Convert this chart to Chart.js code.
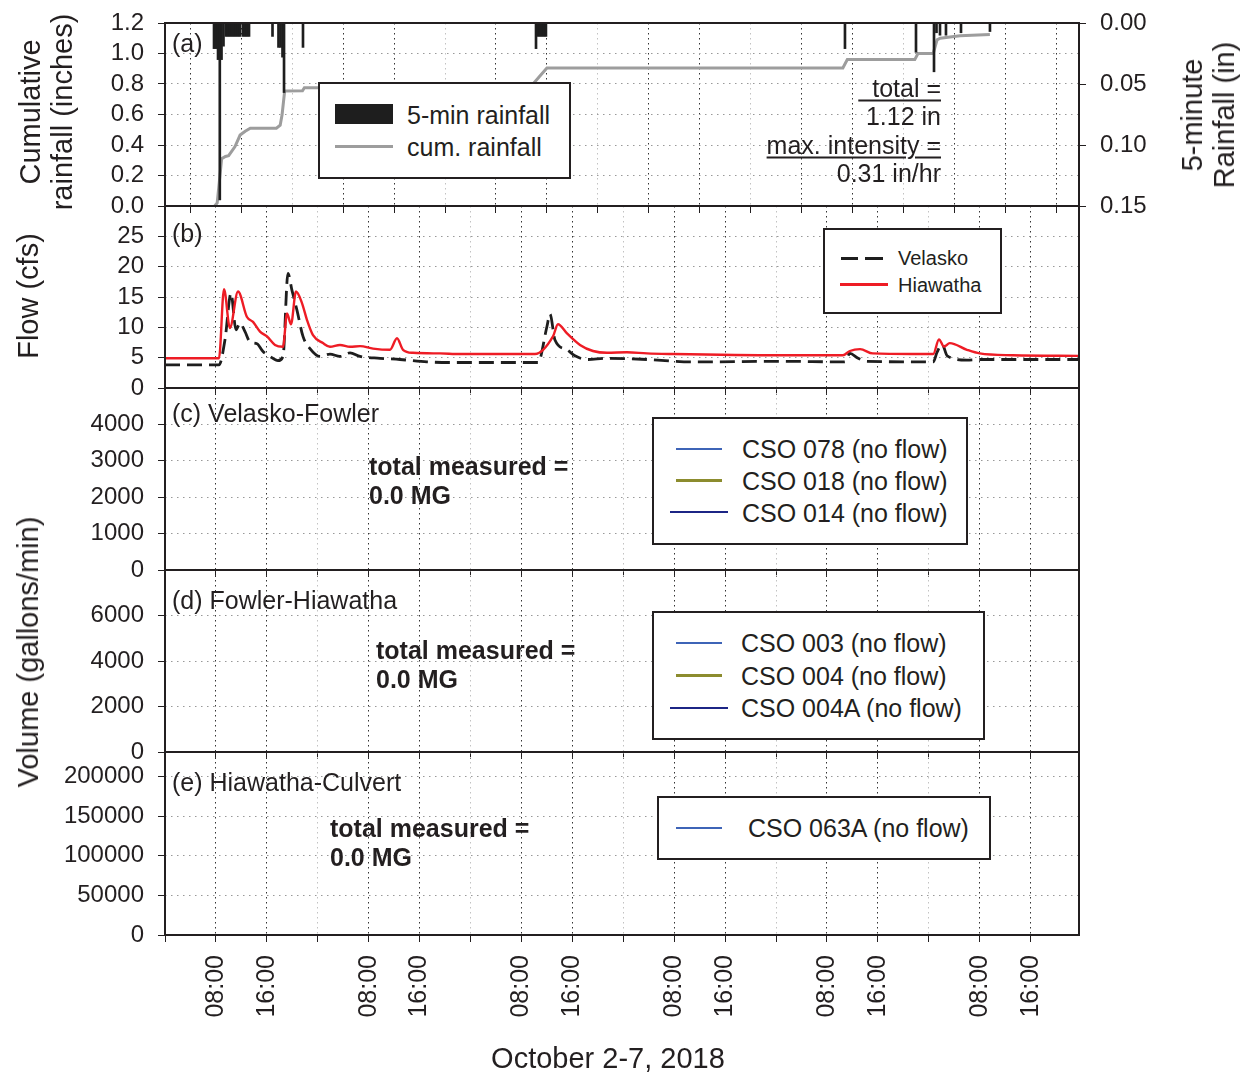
<!DOCTYPE html>
<html>
<head>
<meta charset="utf-8">
<script src="https://cdn.jsdelivr.net/npm/chart.js@4.4.1/dist/chart.umd.min.js"></script>
<style>
  body { margin: 0; background: #fff; font-family: "Liberation Sans", Arial, sans-serif; color: #231f20; }
  #fig { position: relative; width: 1250px; height: 1074px; overflow: hidden; }
  canvas { position: absolute; left: 0; }
  .lbl { position: absolute; font-size: 25px; line-height: 25px; white-space: nowrap; transform: translateY(-50%); }
  .small { font-size: 20px; line-height: 20px; }
  .bold { font-weight: bold; }
  .box { position: absolute; background: #fff; border: 2px solid #231f20; box-sizing: border-box; }
  .sw { position: absolute; }
  .ttl { position: absolute; font-size: 29px; line-height: 32px; white-space: nowrap; text-align: center; transform: translate(-50%, -50%) rotate(-90deg); }
  .xttl { position: absolute; font-size: 29px; white-space: nowrap; transform: translate(-50%, -50%); }
  .ul { text-decoration: underline; text-decoration-thickness: 2px; text-underline-offset: 3px; }
</style>
</head>
<body>
<div id="fig">
  <canvas id="chartA" width="1250" height="216" style="top:0px"></canvas>
  <canvas id="chartB" width="1250" height="202" style="top:196px"></canvas>
  <canvas id="chartC" width="1250" height="202" style="top:378px"></canvas>
  <canvas id="chartD" width="1250" height="202" style="top:560px"></canvas>
  <canvas id="chartE" width="1250" height="332" style="top:742px"></canvas>

  <!-- titres des axes -->
  <div class="ttl" style="left:46px; top:112px">Cumulative<br>rainfall (inches)</div>
  <div class="ttl" style="left:28px; top:296px">Flow (cfs)</div>
  <div class="ttl" style="left:28px; top:652px">Volume (gallons/min)</div>
  <div class="ttl" style="left:1208px; top:115px">5-minute<br>Rainfall (in)</div>
  <div class="xttl" style="left:608px; top:1058px">October 2-7, 2018</div>

  <!-- (a) -->
  <div class="lbl" style="left:172px; top:43px">(a)</div>
  <div class="box" style="left:318px; top:82px; width:253px; height:97px"></div>
  <div class="sw" style="left:335px; top:104px; width:58px; height:20px; background:#1e1e1e"></div>
  <div class="sw" style="left:335px; top:145px; width:58px; height:3px; background:#9d9d9d"></div>
  <div class="lbl" style="left:407px; top:115px">5-min rainfall</div>
  <div class="lbl" style="left:407px; top:147px">cum. rainfall</div>
  <div class="lbl" style="right:309px; top:88px"><span class="ul">&nbsp;&nbsp;total =</span></div>
  <div class="lbl" style="right:309px; top:116px">1.12 in</div>
  <div class="lbl" style="right:309px; top:145px"><span class="ul">max. intensity =</span></div>
  <div class="lbl" style="right:309px; top:173px">0.31 in/hr</div>

  <!-- (b) -->
  <div class="lbl" style="left:172px; top:233px">(b)</div>
  <div class="box" style="left:823px; top:228px; width:179px; height:86px"></div>
  <div class="sw" style="left:841px; top:257px; width:17px; height:3px; background:#1e1e1e"></div>
  <div class="sw" style="left:865px; top:257px; width:18px; height:3px; background:#1e1e1e"></div>
  <div class="sw" style="left:840px; top:283px; width:48px; height:3px; background:#ee1c25"></div>
  <div class="lbl small" style="left:898px; top:258px">Velasko</div>
  <div class="lbl small" style="left:898px; top:285px">Hiawatha</div>

  <!-- (c) -->
  <div class="lbl" style="left:172px; top:413px">(c) Velasko-Fowler</div>
  <div class="lbl bold" style="left:369px; top:466px">total measured =</div>
  <div class="lbl bold" style="left:369px; top:495px">0.0 MG</div>
  <div class="box" style="left:652px; top:417px; width:316px; height:128px"></div>
  <div class="sw" style="left:676px; top:448px; width:46px; height:2px; background:#3e64b7"></div>
  <div class="sw" style="left:676px; top:479px; width:46px; height:3px; background:#8c8c2e"></div>
  <div class="sw" style="left:670px; top:511px; width:58px; height:2px; background:#1c2585"></div>
  <div class="lbl" style="left:742px; top:449px">CSO 078 (no flow)</div>
  <div class="lbl" style="left:742px; top:481px">CSO 018 (no flow)</div>
  <div class="lbl" style="left:742px; top:513px">CSO 014 (no flow)</div>

  <!-- (d) -->
  <div class="lbl" style="left:172px; top:600px">(d) Fowler-Hiawatha</div>
  <div class="lbl bold" style="left:376px; top:650px">total measured =</div>
  <div class="lbl bold" style="left:376px; top:679px">0.0 MG</div>
  <div class="box" style="left:652px; top:611px; width:333px; height:129px"></div>
  <div class="sw" style="left:676px; top:642px; width:46px; height:2px; background:#3e64b7"></div>
  <div class="sw" style="left:676px; top:674px; width:46px; height:3px; background:#8c8c2e"></div>
  <div class="sw" style="left:670px; top:707px; width:58px; height:2px; background:#1c2585"></div>
  <div class="lbl" style="left:741px; top:643px">CSO 003 (no flow)</div>
  <div class="lbl" style="left:741px; top:676px">CSO 004 (no flow)</div>
  <div class="lbl" style="left:741px; top:708px">CSO 004A (no flow)</div>

  <!-- (e) -->
  <div class="lbl" style="left:172px; top:782px">(e) Hiawatha-Culvert</div>
  <div class="lbl bold" style="left:330px; top:828px">total measured =</div>
  <div class="lbl bold" style="left:330px; top:857px">0.0 MG</div>
  <div class="box" style="left:657px; top:796px; width:334px; height:64px"></div>
  <div class="sw" style="left:676px; top:827px; width:46px; height:2px; background:#3e64b7"></div>
  <div class="lbl" style="left:748px; top:828px">CSO 063A (no flow)</div>
</div>

<script>
const FONT = '"Liberation Sans", Arial, sans-serif';
const INK = '#231f20';

// axe du temps : heures depuis le 2 octobre 00:00
const X_MAX = 143.6;
const timeTicks = [0, 8, 16, 24, 32, 40, 48, 56, 64, 72, 80, 88, 96, 104, 112, 120, 128, 136];
const timeTickLabels = ['', '08:00', '16:00', '', '08:00', '16:00', '', '08:00', '16:00',
                        '', '08:00', '16:00', '', '08:00', '16:00', '', '08:00', '16:00'];

// graduations des axes y
const cumTicks = [0, 0.2, 0.4, 0.6, 0.8, 1.0, 1.2];
const rain5Ticks = [0, 0.05, 0.10, 0.15];
const flowTicks = [0, 5, 10, 15, 20, 25];
const volCTicks = [0, 1000, 2000, 3000, 4000];
const volDTicks = [0, 2000, 4000, 6000];
const volETicks = [0, 50000, 100000, 150000, 200000];

// (a) pluie cumulée (po)
const cumRainHours = [7.8, 8.2, 8.9, 9.5, 10.0, 11.0, 11.8, 12.6, 13.4, 17.5, 18.1, 18.4, 18.8, 21.6, 21.9,
                      57.3, 60.0, 106.5, 107.2, 117.8, 118.3, 120.7, 121.3, 121.8, 124.9, 129.6];
const cumRainInches = [0, 0.02, 0.31, 0.325, 0.33, 0.39, 0.465, 0.49, 0.51, 0.51, 0.53, 0.60, 0.754, 0.755, 0.775,
                       0.775, 0.905, 0.905, 0.96, 0.96, 1.0, 1.0, 1.09, 1.10, 1.117, 1.125];

// (a) pluie sur 5 minutes (po)
const rainBarHours = [7.70, 8.01, 8.33, 8.61, 8.88, 9.19, 9.58, 9.90, 10.21, 10.53, 10.84, 11.15, 11.47, 11.78,
                      12.25, 12.57, 12.88, 13.20, 16.89, 17.83, 18.15, 18.46, 18.70, 21.68,
                      58.29, 58.60, 58.92, 59.23, 59.54, 59.85, 106.83, 117.99, 120.82, 121.21, 121.76,
                      122.70, 125.06, 129.61];
const rainBarDepth = [0.021, 0.021, 0.030, 0.145, 0.030, 0.019, 0.011, 0.011, 0.011, 0.011, 0.011, 0.011, 0.011, 0.011,
                      0.011, 0.011, 0.011, 0.011, 0.011, 0.020, 0.020, 0.028, 0.057, 0.020,
                      0.021, 0.011, 0.011, 0.011, 0.011, 0.011, 0.021, 0.024, 0.040, 0.008, 0.010,
                      0.010, 0.008, 0.007];

// (b) débits (cfs)
const hiawathaHours = [0, 8.48, 9.27, 10.2, 11.47, 12.88, 13.83, 14.93, 16.03, 17.28, 18.54, 19.17, 19.8, 20.58,
                       21.52, 22.31, 23.25, 24.82, 25.92, 27.49, 29.07, 30.64, 32.68, 35.35, 36.45, 37.39, 38.96,
                       43.2, 46.35, 58.13, 60.96, 61.74, 63.16, 65.2, 67.24, 69.44, 72.58, 75.73, 79.81, 96.62,
                       106.5, 107.6, 109.2, 111.2, 117.5, 120.7, 121.6, 122.4, 123.3, 126.0, 128.0, 133.2, 143.6];
const hiawathaFlow = [4.9, 4.9, 16.3, 9.9, 15.9, 11.7, 10.9, 9.3, 8.5, 7.1, 6.8, 12.3, 10.5, 15.9,
                      14.0, 11.2, 8.7, 7.4, 6.8, 7.1, 6.8, 6.9, 6.5, 6.3, 8.2, 6.3, 5.8,
                      5.7, 5.6, 5.6, 8.5, 10.5, 9.0, 7.1, 6.1, 5.8, 5.9, 5.7, 5.6, 5.4,
                      5.4, 6.1, 6.4, 5.7, 5.6, 5.6, 8.0, 6.8, 7.4, 6.3, 5.7, 5.4, 5.3];
const velaskoHours = [0, 8.48, 9.43, 10.37, 11.15, 11.78, 12.57, 13.35, 14.45, 15.4, 16.5, 17.75, 18.54, 19.32,
                      19.95, 20.74, 21.68, 22.78, 24.35, 25.92, 27.49, 29.07, 30.64, 33.78, 36.92, 41.16, 45.25,
                      58.6, 60.0, 60.49, 61.27, 63.16, 64.41, 66.3, 69.44, 75.73, 82.95, 96.62,
                      106.8, 107.6, 108.9, 110.3, 120.7, 121.3, 122.1, 122.9, 126.0, 128.0, 143.6];
const velaskoFlow = [3.8, 3.8, 8.0, 15.6, 9.6, 10.7, 9.3, 7.6, 7.3, 6.0, 5.2, 4.5, 5.2, 18.9,
                     16.1, 12.8, 8.5, 6.5, 5.2, 5.6, 5.2, 5.8, 5.2, 4.9, 4.7, 4.3, 4.2,
                     4.2, 10.1, 12.2, 7.9, 6.3, 5.3, 4.7, 4.9, 4.7, 4.3, 4.4,
                     4.3, 5.7, 4.9, 4.4, 4.3, 5.9, 7.2, 5.3, 4.6, 4.7, 4.7];

// (c)-(e) volumes des CSO : aucun débit
const noFlowHours = [0, 143.6];
const cso078 = [0, 0];
const cso018 = [0, 0];
const cso014 = [0, 0];
const cso003 = [0, 0];
const cso004 = [0, 0];
const cso004A = [0, 0];
const cso063A = [0, 0];

const pts = (xs, ys) => xs.map((x, i) => ({ x: x, y: ys[i] }));

// cadre noir autour de chaque panneau
const framePlugin = {
  id: 'frame',
  beforeDatasetsDraw(chart, args, opts) { if (opts.under) drawFrame(chart); },
  afterDatasetsDraw(chart, args, opts) { if (!opts.under) drawFrame(chart); }
};
function drawFrame(chart) {
  const a = chart.chartArea, ctx = chart.ctx;
  ctx.save();
  ctx.strokeStyle = INK;
  ctx.lineWidth = 2;
  ctx.strokeRect(a.left, a.top, a.right - a.left, a.bottom - a.top);
  ctx.restore();
}

// pas de marge automatique autour des étiquettes : la zone du graphe reste fixe
function noPad(s) {
  s.paddingTop = 0; s.paddingBottom = 0; s.paddingLeft = 0; s.paddingRight = 0;
}

function xAxis(showLabels, height) {
  return {
    type: 'linear', min: 0, max: X_MAX, offset: false,
    afterBuildTicks: s => { s.ticks = timeTicks.map(v => ({ value: v })); },
    afterFit: s => { s.height = height; noPad(s); },
    ticks: {
      display: showLabels, autoSkip: false, minRotation: 90, maxRotation: 90, padding: 13,
      font: { family: FONT, size: 25 }, color: INK,
      callback: (v, i) => timeTickLabels[i]
    },
    grid: {
      color: c => (c.tick && c.tick.value % 24 === 0) ? '#c2c2c2' : '#333333',
      tickColor: INK, tickLength: 7, lineWidth: 1
    },
    border: { display: false, dash: [1.5, 3.5] }
  };
}

function yAxis(ticksArr, max, fmt) {
  return {
    position: 'left', min: 0, max: max,
    afterBuildTicks: s => { s.ticks = ticksArr.map(v => ({ value: v })); },
    afterFit: s => { s.width = 165; noPad(s); },
    ticks: { autoSkip: false, font: { family: FONT, size: 24 }, color: INK, padding: 14, callback: fmt },
    grid: { color: '#999999', tickColor: INK, tickLength: 7, lineWidth: 1 },
    border: { display: false, dash: [1.5, 4.5] }
  };
}

function panel(id, padTop, padRight, scales, datasets, frameUnder) {
  return new Chart(document.getElementById(id), {
    type: 'line',
    data: { datasets: datasets },
    options: {
      responsive: false, animation: false, devicePixelRatio: 1, events: [],
      layout: { padding: { top: padTop, right: padRight, left: 0, bottom: 0 } },
      elements: { point: { radius: 0 }, line: { tension: 0 } },
      scales: scales,
      plugins: { legend: { display: false }, tooltip: { enabled: false }, frame: { under: frameUnder } }
    },
    plugins: [framePlugin]
  });
}

function zeroLine(hours, vals, color, width) {
  return { data: pts(hours, vals), borderColor: color, borderWidth: width, pointRadius: 0 };
}

// (a) pluie
panel('chartA', 23, 0, {
  x: xAxis(false, 10),
  y: yAxis(cumTicks, 1.2, v => v.toFixed(1)),
  yRain: {
    position: 'right', reverse: true, min: 0, max: 0.15,
    afterBuildTicks: s => { s.ticks = rain5Ticks.map(v => ({ value: v })); },
    afterFit: s => { s.width = 171; noPad(s); },
    ticks: { autoSkip: false, font: { family: FONT, size: 24 }, color: INK, padding: 14, callback: v => v.toFixed(2) },
    grid: { drawOnChartArea: false, tickColor: INK, tickLength: 7 },
    border: { display: false }
  }
}, [
  { type: 'bar', data: pts(rainBarHours, rainBarDepth), yAxisID: 'yRain',
    backgroundColor: '#1e1e1e', barThickness: 2, borderWidth: 0 },
  { data: pts(cumRainHours, cumRainInches), yAxisID: 'y', borderColor: '#9d9d9d', borderWidth: 3 }
], false);

// (b) débits
panel('chartB', 10, 171, {
  x: xAxis(false, 10),
  y: yAxis(flowTicks, 30, v => String(v))
}, [
  { data: pts(hiawathaHours, hiawathaFlow), borderColor: '#ee1c25', borderWidth: 2.4,
    cubicInterpolationMode: 'monotone' },
  { data: pts(velaskoHours, velaskoFlow), borderColor: '#1e1e1e', borderWidth: 2.8, borderDash: [15, 7],
    cubicInterpolationMode: 'monotone' }
], false);

// (c) Velasko-Fowler
panel('chartC', 10, 171, {
  x: xAxis(false, 10),
  y: yAxis(volCTicks, 5000, v => String(v))
}, [
  zeroLine(noFlowHours, cso078, '#3e64b7', 2),
  zeroLine(noFlowHours, cso018, '#8c8c2e', 2),
  zeroLine(noFlowHours, cso014, '#1c2585', 2)
], false);

// (d) Fowler-Hiawatha
panel('chartD', 10, 171, {
  x: xAxis(false, 10),
  y: yAxis(volDTicks, 8000, v => String(v))
}, [
  zeroLine(noFlowHours, cso003, '#3e64b7', 2),
  zeroLine(noFlowHours, cso004, '#8c8c2e', 2),
  zeroLine(noFlowHours, cso004A, '#1c2585', 2)
], true);

// (e) Hiawatha-Culvert
panel('chartE', 10, 171, {
  x: xAxis(true, 139),
  y: yAxis(volETicks, 231000, v => String(v))
}, [
  zeroLine(noFlowHours, cso063A, '#3e64b7', 2)
], false);
</script>
</body>
</html>
